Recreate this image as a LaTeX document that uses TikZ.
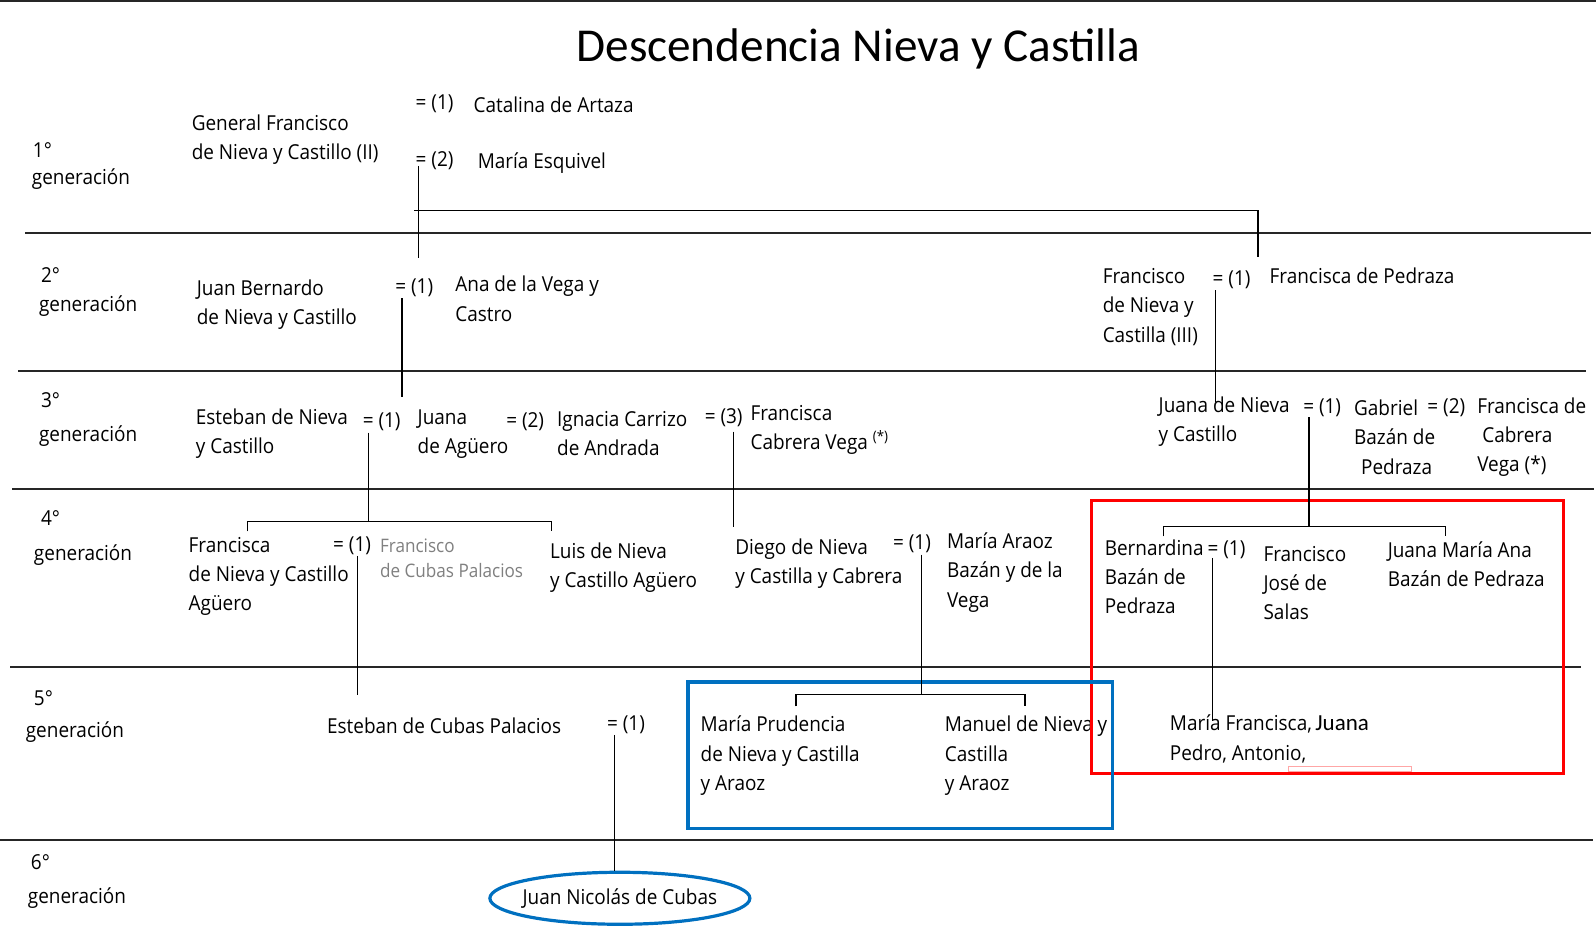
\documentclass[tikz,border=0pt]{standalone}
\usepackage{fontspec}
\setmainfont{Open Sans}[FakeStretch=0.92]
\newfontfamily\calibri{Carlito}
\usetikzlibrary{shapes.geometric}
\definecolor{azul}{RGB}{0,112,192}

\begin{document}
\begin{tikzpicture}[
        x=0.5089pt, y=-0.5089pt, % 1 unidad = 1 pixel, y hacia abajo
        font=\fontsize{10.3}{14.6}\selectfont,
        per/.style={anchor=west, align=left, inner sep=0pt}, % personas
        eq/.style={anchor=west, inner sep=0pt}, % matrimonios
        gris/.style={per, text=black!50, font=\fontsize{9.3}{12.8}\selectfont},
        sep/.style={draw=black!85, line width=1pt}, % separador de generaciones
        lin/.style={draw, line width=0.6pt}, % lineas de descendencia
        marco/.style={line width=1.6pt},
    ]
    \useasboundingbox (0,0) rectangle (1568,924.6);
    \fill[white] (0,0) rectangle (1568,924.6);

    \node[font=\calibri\fontsize{23.6}{28}\selectfont] (titulo) at (843,48) {Descendencia Nieva y Castilla};

    % separadores
    \draw[sep] (0,1) -- (1568,1);
    \foreach \y/\xa/\xb in {229/25/1563, 364/18/1558, 480/12/1566, 655/10/1553, 825/0/1565}
        \draw[sep] (\xa,\y) -- (\xb,\y);

    % generaciones
    \foreach \n/\xn/\yn/\xg/\yg in {1/32/147/31/176, 2/40/270/38/301, 3/40/393/38/428,
                                  4/40/509/33/545, 5/33/686/25/719, 6/30/847/27/882} {
        \node[per] (g\n) at (\xn,\yn) {\n°};
        \node[per] (gl\n) at (\xg,\yg) {generación};
    }

    % 1a generacion
    \node[per] (gfn) at (188,137.5) {General Francisco\\de Nieva y Castillo (II)};
    \node[eq] (e11) at (408,102) {= (1)};
    \node[per] (cat) at (465,103) {Catalina de Artaza};
    \node[eq] (e12) at (408,158) {= (2)};
    \node[per] (mes) at (469,160) {María Esquivel};

    % 2a generacion
    \node[per] (jbn) at (193,299) {Juan Bernardo\\de Nieva y Castillo};
    \node[eq] (e21) at (388,283) {= (1)};
    \node[per] (avc) at (447,293.5) {Ana de la Vega y\\Castro};
    \node[per] (fnc) at (1083,301.5) {Francisco\\de Nieva y\\Castilla (III)};
    \node[eq] (e22) at (1191,275) {= (1)};
    \node[per] (fpe) at (1247,271) {Francisca de Pedraza};

    % 3a generacion
    \node[per] (enc) at (192,426) {Esteban de Nieva\\y Castillo};
    \node[eq] (e31) at (356,414) {= (1)};
    \node[per] (jag) at (410,426.5) {Juana\\de Agüero};
    \node[eq] (e32) at (497,414) {= (2)};
    \node[per] (ica) at (547,426) {Ignacia Carrizo\\de Andrada};
    \node[eq] (e33) at (692,410) {= (3)};
    \node[per] (fcv) at (737,422) {Francisca\\Cabrera Vega \textsuperscript{(*)}};
    \node[per] (jnv) at (1138,414.5) {Juana de Nieva\\y Castillo};
    \node[eq] (e34) at (1280,401) {= (1)};
    \node[per] (gbp) at (1330,429.5) {Gabriel\\Bazán de\\\hspace*{3.5pt}Pedraza};
    \node[eq] (e35) at (1402,401) {= (2)};
    \node[per] (fcb) at (1451,429.5) {Francisca de\\\hspace*{2.5pt}Cabrera\\Vega (*)};

    % 4a generacion
    \node[per] (fna) at (185,566.5) {Francisca\\de Nieva y Castillo\\Agüero};
    \node[eq] (e41) at (327,536) {= (1)};
    \node[gris] (fcp) at (373,548.5) {Francisco\\de Cubas Palacios};
    \node[per] (lnc) at (540,557.5) {Luis de Nieva\\y Castillo Agüero};
    \node[per] (dnc) at (722,554) {Diego de Nieva\\y Castilla y Cabrera};
    \node[eq] (e42) at (877,534) {= (1)};
    \node[per] (mab) at (930,562.5) {María Araoz\\Bazán y de la\\Vega};
    \node[per] (bbp) at (1085,566.5) {Bernardina\\Bazán de\\Pedraza};
    \node[eq] (e43) at (1186,540) {= (1)};
    \node[per] (fjs) at (1241,573) {Francisco\\José de\\Salas};
    \node[per] (jma) at (1363,554) {Juana María Ana\\Bazán de Pedraza};

    % 5a generacion
    \node[per] (ecp) at (321,713) {Esteban de Cubas Palacios};
    \node[eq] (e51) at (596,712) {= (1)};
    \node[per] (mpn) at (688,742.5) {María Prudencia\\de Nieva y Castilla\\y Araoz};
    \node[per] (mnc) at (928,742.5) {Manuel de Nieva y\\Castilla\\y Araoz};
    \node[per] (mfj) at (1149,726) {María Francisca,\,{\calibri\fontsize{11.5}{14}\selectfont Juana}\\Pedro, Antonio,};

    % 6a generacion
    \node[ellipse, draw=azul, marco, minimum width=130pt, minimum height=26pt,
          inner xsep=-4pt, inner ysep=0pt]
        (jnc) at (609,882.5) {Juan Nicolás de Cubas};

    % marcos
    \draw[red, marco] (1072,492) rectangle (1536,760);
    \draw[red!35, fill=white, line width=0.3pt] (1266,753) rectangle (1387,758);
    \draw[azul, marco] (676,670) rectangle (1093,814);

    % puntos de union
    \coordinate (c1t) at (411,163); \coordinate (c1b) at (411,253);
    \coordinate (h1a) at (407,207); \coordinate (h1b) at (1236,207);
    \coordinate (c2t) at (395,293); \coordinate (c2b) at (395,390);
    \coordinate (c3t) at (1194,285); \coordinate (c3b) at (1194,395);
    \coordinate (c4t) at (362,425); \coordinate (c4m) at (362,512);
    \coordinate (b4a) at (243,512); \coordinate (b4b) at (542,512);
    \coordinate (c5t) at (721,424); \coordinate (c5b) at (721,518);
    \coordinate (c6t) at (1286,410); \coordinate (c6m) at (1286,517);
    \coordinate (b6a) at (1143,517); \coordinate (b6b) at (1420,517);
    \coordinate (c7t) at (351,546); \coordinate (c7b) at (351,683);
    \coordinate (c8t) at (905,545); \coordinate (c8m) at (905,682);
    \coordinate (b8a) at (782,682); \coordinate (b8b) at (1007,682);
    \coordinate (c9t) at (1191,548); \coordinate (c9b) at (1191,708);
    \coordinate (c10t) at (604,722);

    % lineas de descendencia
    \draw[lin] (c1t) -- (c1b);
    \draw[lin] (h1a) -- (h1b) -- ++(0,45);
    \draw[lin] (c2t) -- (c2b);
    \draw[lin] (c3t) -- (c3b);
    \draw[lin] (c4t) -- (c4m);
    \draw[lin] (b4a) ++(0,10) -- (b4a) -- (b4b) -- ++(0,10);
    \draw[lin] (c5t) -- (c5b);
    \draw[lin] (c6t) -- (c6m);
    \draw[lin] (b6a) ++(0,10) -- (b6a) -- (b6b) -- ++(0,10);
    \draw[lin] (c7t) -- (c7b);
    \draw[lin] (c8t) -- (c8m);
    \draw[lin] (b8a) ++(0,12) -- (b8a) -- (b8b) -- ++(0,12);
    \draw[lin] (c9t) -- (c9b);
    \draw[lin] (c10t) -- (c10t |- jnc.north);
\end{tikzpicture}
\end{document}
